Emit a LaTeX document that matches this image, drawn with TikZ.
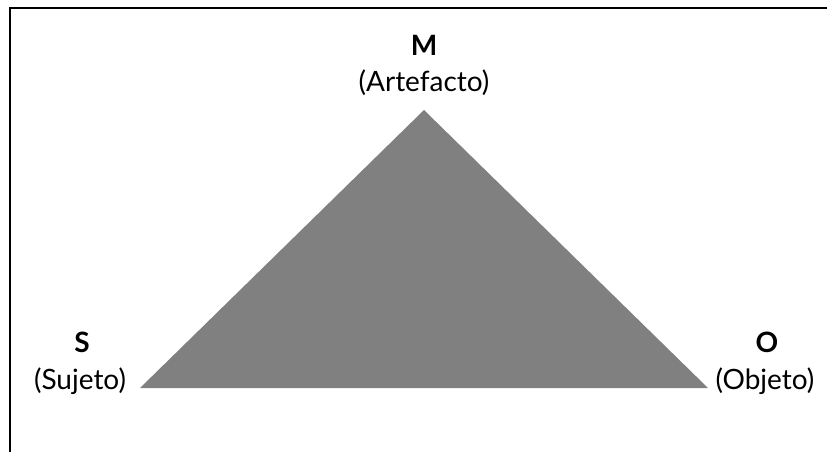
\documentclass[tikz,border=0pt]{standalone}
\usepackage{fontspec}
\setmainfont{Lato}
\begin{document}
\begin{tikzpicture}[x=1pt,y=-1pt,
  lbl/.style={font=\fontsize{28}{32}\selectfont, inner sep=0pt, anchor=base},
  ttl/.style={font=\fontsize{28}{32}\selectfont\bfseries, inner sep=0pt, anchor=base}]
\useasboundingbox (0,0) rectangle (827,452);
\begin{scope}
\clip (0,0) rectangle (827,452);
\draw[line width=2.2pt] (10,8) rectangle (840,470);
\end{scope}
\coordinate (M) at (424,110);
\coordinate (S) at (140,388);
\coordinate (O) at (708,388);
\fill[fill={rgb,255:red,128;green,128;blue,128}] (M) -- (S) -- (O) -- cycle;
\node[ttl] (mt) at (424,56) {M};
\node[lbl] (ma) at (424,91) {(Artefacto)};
\node[ttl] (st) at (82,352) {S};
\node[lbl] (sa) at (80,389) {(Sujeto)};
\node[ttl] (ot) at (767,352) {O};
\node[lbl] (oa) at (765,389) {(Objeto)};
\end{tikzpicture}
\end{document}
